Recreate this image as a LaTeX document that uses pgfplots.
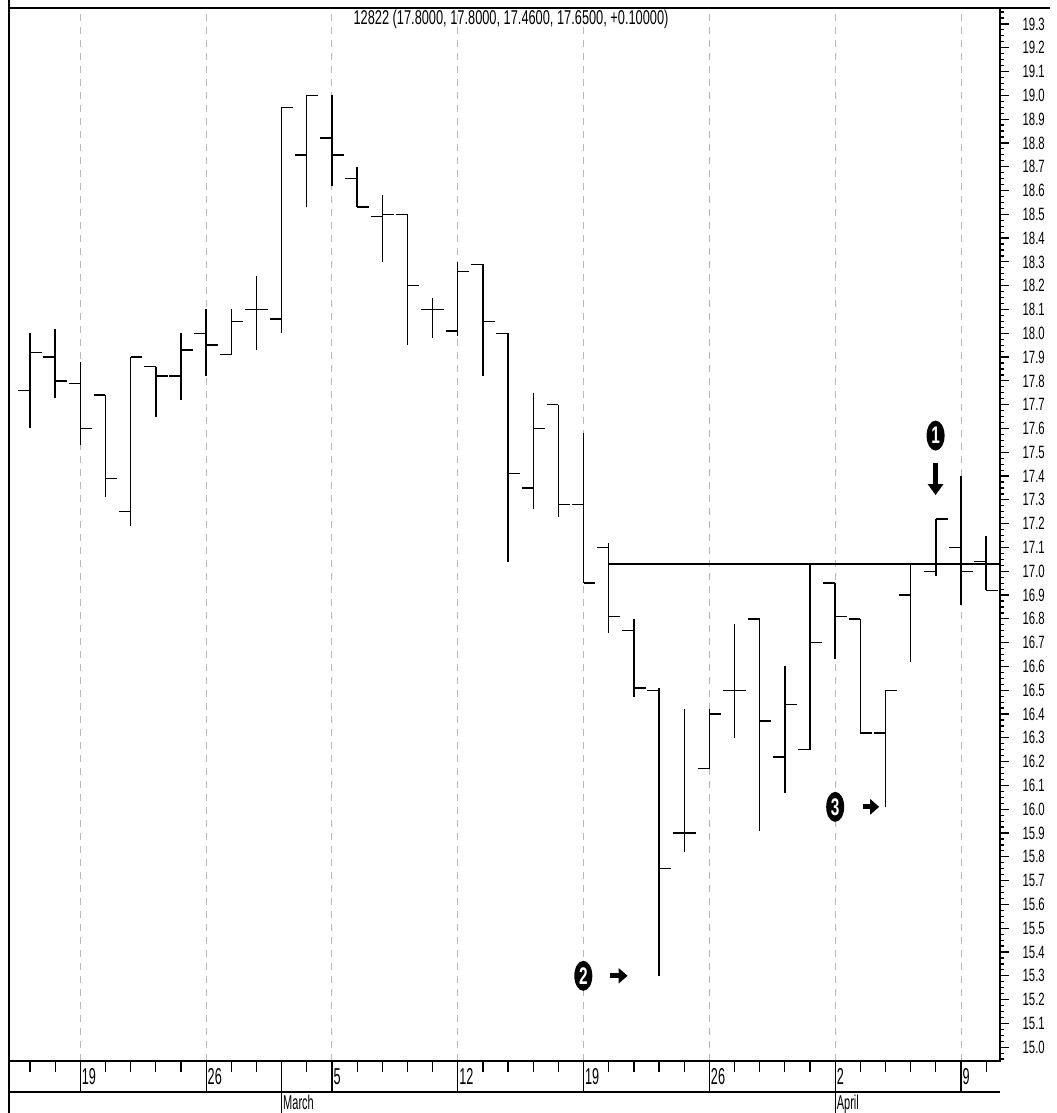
\documentclass[border=0pt]{standalone}
\usepackage{fontspec}
\setmainfont{Liberation Sans}[FakeStretch=0.64]
\newfontfamily\bandfont{Liberation Sans}[FakeStretch=0.55]
\usepackage{pgfplots}
\usepackage{pgfplotstable}
\pgfplotsset{compat=1.18}
\usetikzlibrary{arrows.meta,shapes.geometric}

\pgfdeclareplotmark{otick}{\pgfpathmoveto{\pgfqpoint{-\pgfplotmarksize}{0pt}}\pgfpathlineto{\pgfqpoint{0pt}{0pt}}\pgfusepathqstroke}
\pgfdeclareplotmark{ctick}{\pgfpathmoveto{\pgfqpoint{0pt}{0pt}}\pgfpathlineto{\pgfqpoint{\pgfplotmarksize}{0pt}}\pgfusepathqstroke}

\pgfplotstableread{
i O H L C
0 17.76 18.00 17.60 17.92
1 17.90 18.02 17.73 17.80
2 17.79 17.88 17.53 17.60
3 17.74 17.74 17.31 17.39
4 17.25 17.90 17.19 17.90
5 17.86 17.86 17.65 17.82
6 17.82 18.00 17.72 17.93
7 18.00 18.10 17.82 17.95
8 17.91 18.10 17.91 18.05
9 18.10 18.24 17.93 18.10
10 18.06 18.95 18.00 18.95
11 18.75 19.00 18.53 19.00
12 18.82 19.00 18.62 18.75
13 18.65 18.70 18.53 18.53
14 18.49 18.58 18.30 18.50
15 18.50 18.50 17.95 18.20
16 18.10 18.15 17.98 18.10
17 18.01 18.30 17.99 18.26
18 18.29 18.29 17.82 18.05
19 18.00 18.00 17.04 17.41
20 17.35 17.75 17.26 17.60
21 17.70 17.70 17.23 17.28
22 17.28 17.58 16.95 16.95
23 17.10 17.12 16.74 16.81
24 16.75 16.80 16.47 16.51
25 16.50 16.51 15.30 15.75
26 15.90 16.42 15.82 15.90
27 16.17 16.42 16.17 16.40
28 16.50 16.78 16.30 16.50
29 16.80 16.80 15.91 16.37
30 16.22 16.60 16.07 16.44
31 16.25 17.03 16.25 16.70
32 16.95 16.95 16.63 16.81
33 16.80 16.80 16.32 16.32
34 16.32 16.50 16.01 16.50
35 16.90 17.03 16.62 17.03
36 17.00 17.22 16.98 17.22
37 17.10 17.40 16.86 17.00
38 17.04 17.15 16.92 16.92
}\ohlc

\begin{document}
\begin{tikzpicture}
\useasboundingbox (0,0) rectangle (528pt,556.5pt);
% main price axis
\begin{axis}[
  at={(4.5pt,26pt)}, anchor=south west, scale only axis,
  width=495.5pt, height=526.5pt,
  xmin=-0.835, xmax=38.55, ymin=14.942, ymax=19.367,
  axis line style={line width=0.8pt, black},
  xtick={2,7,...,37}, xticklabels={},
  xmajorgrids, major x grid style={black!28, dash pattern=on 3.5pt off 3pt, line width=0.5pt},
  x tick style={draw=none},
  ytick distance=0.1, minor y tick num=3,
  ytick pos=right, yticklabel pos=right, tick align=outside,
  major tick length=4.6pt, minor tick length=2.2pt,
  y tick style={line width=0.6pt, black},
  y tick label style={anchor=west, inner sep=0pt, xshift=6.5pt,
    font=\fontsize{8.9}{9}\selectfont,
    /pgf/number format/.cd, fixed, fixed zerofill, precision=1, assume math mode=true},
]
\addplot[draw=none, mark=none, forget plot,
  error bars/.cd, y dir=plus, y explicit, error mark=none,
  error bar style={draw=black, line width=0.7pt}]
  table[x=i, y=L, y error expr=\thisrow{H}-\thisrow{L}] {\ohlc};
\addplot[black, only marks, mark=otick, mark size=5.85pt, mark options={line width=0.7pt}]
  table[x=i, y=O] {\ohlc};
\addplot[black, only marks, mark=ctick, mark size=5.85pt, mark options={line width=0.7pt}]
  table[x=i, y=C] {\ohlc};
\addplot[black, line width=1pt] coordinates {(23,17.03) (38.55,17.03)};
% title
\node[font=\fontsize{10}{10}\selectfont, inner sep=0pt] at (rel axis cs:0.5066,0.9893)
  {12822 (17.8000, 17.8000, 17.4600, 17.6500, +0.10000)};
% annotations
\node[ellipse, fill=black, text=white, inner sep=0pt, minimum width=9pt, minimum height=15pt,
  font=\bfseries\fontsize{12}{12}\selectfont] at (axis cs:35.99,17.57) {1};
\draw[black, line width=2.3pt, -{Triangle[length=5.5pt,width=7.5pt]}] (axis cs:35.99,17.455) -- (axis cs:35.99,17.32);
\node[ellipse, fill=black, text=white, inner sep=0pt, minimum width=9pt, minimum height=15pt,
  font=\bfseries\fontsize{12}{12}\selectfont] at (axis cs:21.99,15.30) {2};
\draw[black, line width=2.5pt, -{Triangle[length=4.5pt,width=7.5pt]}] (axis cs:23.07,15.30) -- (axis cs:23.75,15.30);
\node[ellipse, fill=black, text=white, inner sep=0pt, minimum width=9pt, minimum height=15pt,
  font=\bfseries\fontsize{12}{12}\selectfont] at (axis cs:32.0,16.01) {3};
\draw[black, line width=2.5pt, -{Triangle[length=4.5pt,width=7.5pt]}] (axis cs:33.1,16.01) -- (axis cs:33.75,16.01);
\end{axis}
% day band
\begin{axis}[
  at={(4.5pt,10.5pt)}, anchor=south west, scale only axis,
  width=495.5pt, height=15pt,
  xmin=-0.835, xmax=38.55, ymin=0, ymax=1,
  axis line style={draw=none}, ytick=\empty,
  xtick={2,7,...,37}, xticklabels={19,26,5,12,19,26,2,9},
  minor xtick={0,1,3,4,5,6,8,9,10,11,13,14,15,16,18,19,20,21,23,24,25,26,28,29,30,31,33,34,35,36,38},
  xmajorgrids, major x grid style={black, solid, line width=0.6pt},
  extra x ticks={10}, extra x tick labels={}, extra x tick style={grid=major, major tick length=0pt},
  xtick pos=upper, xticklabel pos=upper, tick align=inside,
  major tick length=0pt, minor tick length=5pt,
  minor x tick style={black, line width=0.6pt},
  x tick label style={anchor=north west, inner sep=0pt, xshift=0.6pt, yshift=-3.2pt,
    font=\bandfont\fontsize{11.5}{12}\selectfont},
]
\end{axis}
% month band
\begin{axis}[
  at={(4.5pt,0pt)}, anchor=south west, scale only axis,
  width=495.5pt, height=10.5pt,
  xmin=-0.835, xmax=38.55, ymin=0, ymax=1,
  axis line style={draw=none}, ytick=\empty,
  xtick={10,32}, xticklabels={March,April},
  xmajorgrids, major x grid style={black, solid, line width=0.6pt},
  xtick pos=upper, xticklabel pos=upper, major tick length=0pt,
  x tick label style={anchor=north west, inner sep=0pt, xshift=0.6pt, yshift=-1.2pt,
    font=\bandfont\fontsize{10}{10}\selectfont},
]
\end{axis}
% frame lines
\draw[black, line width=1.3pt] (4.5pt,0pt) -- (4.5pt,556.5pt);
\draw[black, line width=0.8pt] (4.5pt,552.5pt) -- (525pt,552.5pt);
\draw[black, line width=0.8pt] (4.5pt,10.5pt) -- (500pt,10.5pt);
\end{tikzpicture}
\end{document}
